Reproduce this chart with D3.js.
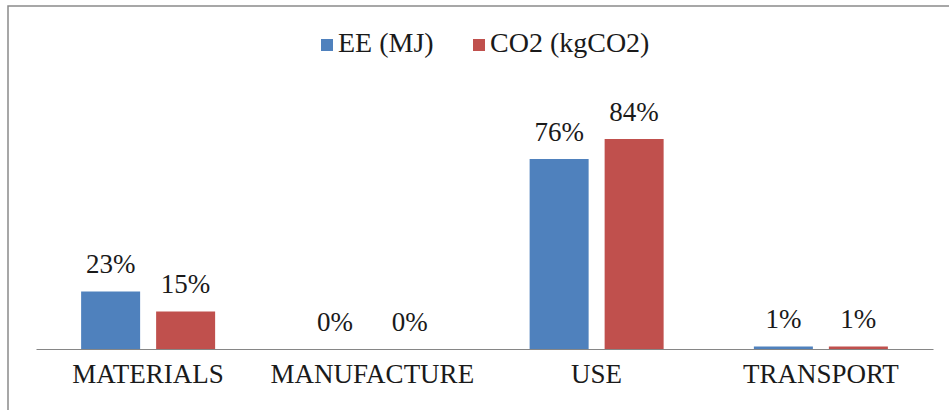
<!DOCTYPE html>
<html>
<head>
<meta charset="utf-8">
<script src="https://cdn.jsdelivr.net/npm/d3@7"></script>
<style>
  html, body { margin: 0; padding: 0; background: #fff; }
  svg { display: block; }
</style>
</head>
<body>
<div id="chart"></div>
<script>
// Life-cycle phases and share of each indicator per phase (%)
const categories = ["MATERIALS", "MANUFACTURE", "USE", "TRANSPORT"];
const seriesNames = ["EE (MJ)", "CO2 (kgCO2)"];
const eeValues = [23, 0, 76, 1];
const co2Values = [15, 0, 84, 1];
const seriesColors = ["#4F81BD", "#C0504D"];

const width = 949, height = 410;
const textColor = "#1a1a1a";
const fontName = "serif";

const svg = d3.select("#chart").append("svg")
  .attr("width", width)
  .attr("height", height);

svg.append("rect").attr("width", width).attr("height", height).attr("fill", "#fff");

// Chart frame (left and top edges visible in the view)
svg.append("path")
  .attr("d", `M8,${height + 2}V6H${width + 2}`)
  .attr("fill", "none")
  .attr("stroke", "#8a8a8a")
  .attr("stroke-width", 1.5);

const x = d3.scaleBand()
  .domain(categories)
  .range([36, 933])
  .paddingInner(0)
  .paddingOuter(0);

const xSub = d3.scaleBand()
  .domain(seriesNames)
  .range([0, x.bandwidth()])
  .paddingInner(16 / 75)
  .paddingOuter(0.6017);

const y = d3.scaleLinear()
  .domain([0, 90])
  .range([349, 124]);

// One record per bar, with its absolute horizontal position from both scales
const bars = [];
categories.forEach((c, i) => {
  [eeValues[i], co2Values[i]].forEach((v, s) => {
    bars.push({
      category: c,
      series: seriesNames[s],
      value: v,
      color: seriesColors[s],
      x0: x(c) + xSub(seriesNames[s])
    });
  });
});

svg.selectAll("rect.bar")
  .data(bars)
  .join("rect")
  .attr("class", "bar")
  .attr("x", d => d.x0)
  .attr("y", d => y(d.value))
  .attr("width", xSub.bandwidth())
  .attr("height", d => y(0) - y(d.value))
  .attr("fill", d => d.color);

svg.selectAll("text.value")
  .data(bars)
  .join("text")
  .attr("class", "value")
  .attr("x", d => d.x0 + xSub.bandwidth() / 2)
  .attr("y", d => y(d.value) - 18.5)
  .attr("text-anchor", "middle")
  .attr("font-family", fontName)
  .attr("font-size", 27)
  .attr("fill", textColor)
  .text(d => d.value + "%");

// Zero line drawn by the category axis; its labels are set below it
const axis = svg.append("g")
  .attr("transform", `translate(0,${y(0)})`)
  .call(d3.axisBottom(x).tickSize(0).tickSizeOuter(0).tickFormat(() => ""));
axis.select(".domain").attr("stroke", "#868686").attr("stroke-width", 1.2);

svg.selectAll("text.category")
  .data(categories)
  .join("text")
  .attr("class", "category")
  .attr("x", d => x(d) + x.bandwidth() / 2)
  .attr("y", y(0) + 34)
  .attr("text-anchor", "middle")
  .attr("font-family", fontName)
  .attr("font-size", 27)
  .attr("fill", textColor)
  .text(d => d);

// Legend
const legendItems = [
  { name: seriesNames[0], color: seriesColors[0], x: 321 },
  { name: seriesNames[1], color: seriesColors[1], x: 473 }
];

svg.selectAll("rect.swatch")
  .data(legendItems)
  .join("rect")
  .attr("class", "swatch")
  .attr("x", d => d.x).attr("y", 39)
  .attr("width", 12).attr("height", 12)
  .attr("fill", d => d.color);

svg.selectAll("text.legend")
  .data(legendItems)
  .join("text")
  .attr("class", "legend")
  .attr("x", d => d.x + 17).attr("y", 52)
  .attr("font-family", fontName)
  .attr("font-size", 28)
  .attr("fill", textColor)
  .text(d => d.name);
</script>
</body>
</html>
